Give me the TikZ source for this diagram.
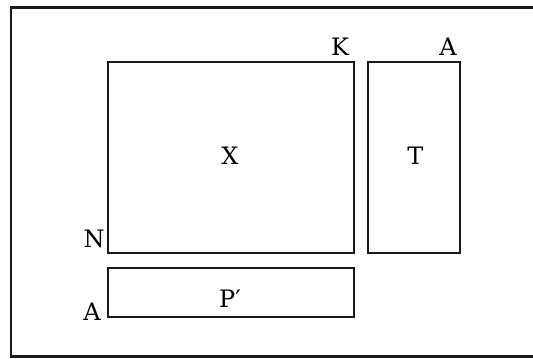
\documentclass[tikz,border=0pt]{standalone}
\usepackage{fontspec}
\setmainfont{DejaVu Serif}
\begin{document}
\begin{tikzpicture}[x=0.75pt,y=-0.75pt,
  box/.style={draw=black!90,line width=1.6pt},
  lbl/.style={font=\fontsize{18}{22}\selectfont,text=black,inner sep=0pt,anchor=base}]
\useasboundingbox (0,0) rectangle (533,358);
\clip (0,0) rectangle (533,358);
% frame (its right side runs past the page edge)
\draw[box] (11,7.5) rectangle (545,356.5);
% the three blocks
\draw[box] (108,62) rectangle (354,253);
\draw[box] (368,62) rectangle (460,253);
\draw[box] (108,268) rectangle (354,317);
% labels
\node[lbl] (x) at (230,164) {X};
\node[lbl] (t) at (415.5,164) {T};
\node[lbl] (p) at (230,307) {P′};
\node[lbl] (k) at (340,55) {K};
\node[lbl] (a1) at (448,55) {A};
\node[lbl] (n) at (94,247) {N};
\node[lbl] (a2) at (92,320) {A};
\end{tikzpicture}
\end{document}
